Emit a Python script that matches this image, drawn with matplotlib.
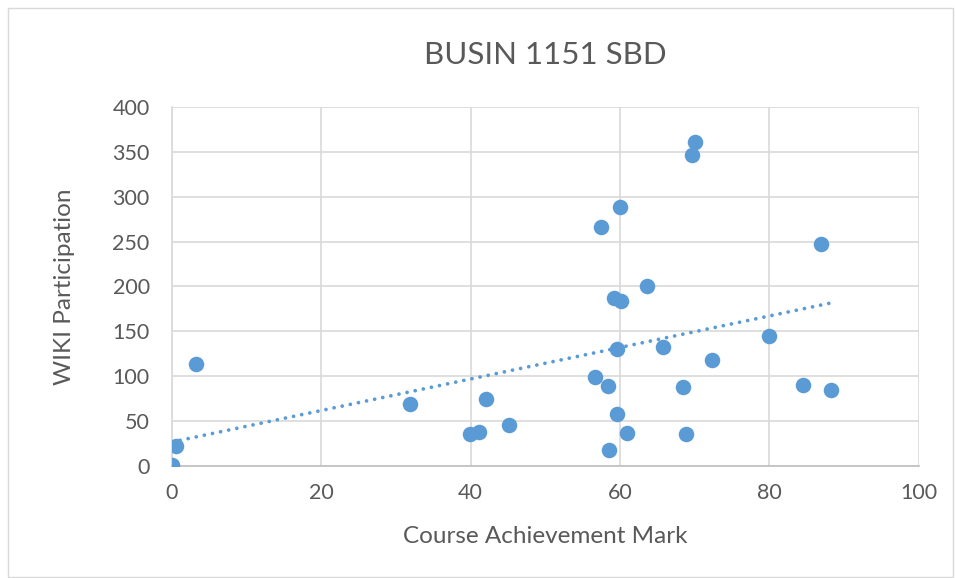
import matplotlib.pyplot as plt
import numpy as np
from matplotlib.patches import Rectangle

# course mark vs wiki participation
mark = [0, 0.6, 3.2, 31.9, 39.9, 41.1, 42.1, 45.2,
        70.0, 69.6, 60.0, 57.4, 86.9, 63.6, 59.2, 60.2, 80.0, 59.6,
        65.7, 72.3, 56.7, 58.4, 68.4, 84.5, 88.3, 59.6, 61.0, 68.9, 58.5]
wiki = [1, 22, 114, 69, 35, 38, 75, 45,
        361, 346, 288, 266, 247, 201, 187, 184, 145, 130,
        133, 118, 99, 89, 88, 90, 84, 58, 37, 35, 18]

blue = "#5B9BD5"
txt = "#595959"
plt.rcParams['font.family'] = ['Lato', 'DejaVu Sans']

fig = plt.figure(figsize=(9.55, 5.78), dpi=100)
ax = fig.add_axes([0.180, 0.194, 0.782, 0.621])

ax.scatter(mark, wiki, s=125, color=blue, zorder=3, linewidths=0)

# linear trendline like excel
k, b = np.polyfit(mark, wiki, 1)
xt = np.array([min(mark), max(mark)])
ax.plot(xt, k * xt + b, color=blue, lw=2.7, linestyle=(0, (0.01, 2.2)),
        dash_capstyle='round', zorder=2)

ax.set_xlim(0, 100)
ax.set_ylim(0, 400)
ax.set_xticks(range(0, 101, 20))
ax.set_yticks(range(0, 401, 50))
ax.grid(True, color="#D9D9D9", lw=1.2)
ax.set_axisbelow(True)
for s in ["top", "right"]:
    ax.spines[s].set_visible(False)
ax.spines["left"].set_color("#D9D9D9")
ax.spines["bottom"].set_color("#BFBFBF")
ax.spines["left"].set_linewidth(1.2)
ax.spines["bottom"].set_linewidth(1.2)
ax.tick_params(length=0, labelsize=15.5, colors=txt)
ax.tick_params(axis='y', pad=16)
ax.tick_params(axis='x', pad=12)

ax.set_title("BUSIN 1151 SBD", fontsize=22.5, color=txt, pad=31)
ax.set_xlabel("Course Achievement Mark", fontsize=17.5, color=txt, labelpad=17)
ax.set_ylabel("WIKI Participation", fontsize=17.5, color=txt, labelpad=27)

fig.patches.append(Rectangle((0.008, 0.002), 0.99, 0.984, transform=fig.transFigure,
                             fill=False, edgecolor="#D9D9D9", lw=1))

fig.savefig("out.png", dpi=100)
